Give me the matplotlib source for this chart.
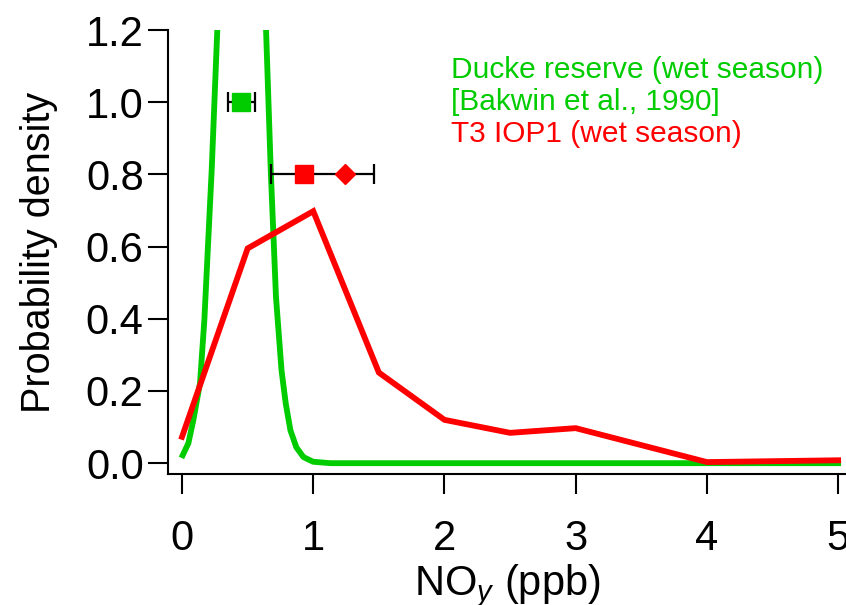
import matplotlib
matplotlib.use('Agg')
import matplotlib.pyplot as plt

plt.rcParams['font.family'] = 'Liberation Sans'
plt.rcParams['mathtext.fontset'] = 'custom'
plt.rcParams['mathtext.rm'] = 'Liberation Sans'
plt.rcParams['mathtext.it'] = 'Liberation Sans:italic'

GREEN = '#00cc00'
RED = '#ff0000'

# Ducke reserve NOy distribution (peak runs off the top of the plot)
ducke_x = [0.005, 0.048, 0.086, 0.137, 0.170, 0.226, 0.269, 0.29, 0.62,
           0.640, 0.676, 0.716, 0.758, 0.790, 0.826, 0.871, 0.925, 0.998,
           1.13, 5.0]
ducke_y = [0.022, 0.055, 0.119, 0.222, 0.396, 0.812, 1.203, 1.40, 1.40,
           1.203, 0.812, 0.460, 0.258, 0.166, 0.091, 0.044, 0.017, 0.004,
           0.0, 0.0]

# T3 IOP1 NOy distribution
t3_x = [0.0, 0.5, 1.0, 1.5, 2.0, 2.5, 3.0, 4.0, 5.0]
t3_y = [0.073, 0.595, 0.698, 0.251, 0.120, 0.084, 0.097, 0.003, 0.008]

# summary statistics shown above the curves
ducke_median, ducke_lo, ducke_hi, ducke_level = 0.45, 0.353, 0.556, 1.0
t3_median, t3_mean, t3_lo, t3_hi, t3_level = 0.927, 1.242, 0.676, 1.463, 0.8

W, H = 846, 605
fig = plt.figure(figsize=(W / 100, H / 100), dpi=100)
ax = fig.add_axes([168 / W, 131 / H, 678 / W, 444 / H])

ax.plot(ducke_x, ducke_y, color=GREEN, lw=4.2, solid_joinstyle='round')
ax.plot(t3_x, t3_y, color=RED, lw=4.2, solid_joinstyle='miter')

ax.errorbar([ducke_median], [ducke_level],
            xerr=[[ducke_median - ducke_lo], [ducke_hi - ducke_median]],
            fmt='none', ecolor='black', elinewidth=1.6, capsize=7, capthick=1.6)
ax.plot([ducke_median], [ducke_level], 's', color=GREEN, ms=13.5, mec=GREEN)

ax.errorbar([t3_median], [t3_level],
            xerr=[[t3_median - t3_lo], [t3_hi - t3_median]],
            fmt='none', ecolor='black', elinewidth=1.6, capsize=7, capthick=1.6)
ax.plot([t3_median], [t3_level], 's', color=RED, ms=13.5, mec=RED)
ax.plot([t3_mean], [t3_level], 'D', color=RED, ms=10, mec=RED)

ax.set_xlim(-0.107, 5.06)
ax.set_ylim(-0.03, 1.2)
ax.set_xticks(range(0, 6))
ax.set_yticks([0.0, 0.2, 0.4, 0.6, 0.8, 1.0, 1.2])
ax.set_yticklabels(['0.0', '0.2', '0.4', '0.6', '0.8', '1.0', '1.2'])

for side in ['top', 'right']:
    ax.spines[side].set_visible(False)
for side in ['left', 'bottom']:
    ax.spines[side].set_linewidth(1.5)

ax.tick_params(axis='both', direction='out', length=14.5, width=1.5,
               labelsize=30)
ax.tick_params(axis='x', pad=18)
ax.tick_params(axis='y', pad=3)

ax.set_xlabel(r'NO$_{\mathit{y}}$ (ppb)', fontsize=30, labelpad=2)
ax.set_ylabel('Probability density', fontsize=28.5, labelpad=20)

# legend-style labels, placed in pixel positions from the top-left
labels = ['Ducke reserve (wet season)', '[Bakwin et al., 1990]',
          'T3 IOP1 (wet season)']
label_colors = [GREEN, GREEN, RED]
label_rows = [70, 102, 134]
for text, color, row in zip(labels, label_colors, label_rows):
    fig.text(451 / W, 1 - row / H, text, fontsize=21.5, color=color,
             va='center', ha='left')

fig.savefig('out.png', dpi=100)
